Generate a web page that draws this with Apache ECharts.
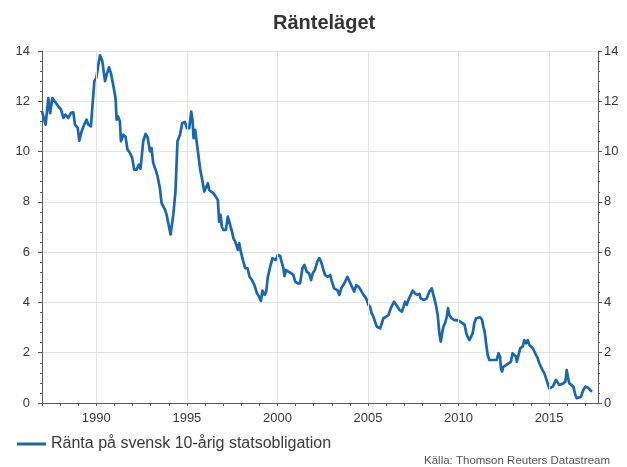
<!DOCTYPE html>
<html>
<head>
<meta charset="utf-8">
<script src="https://cdn.jsdelivr.net/npm/echarts@6/dist/echarts.min.js"></script>
<style>html,body{margin:0;padding:0;background:#fff}#c{width:627px;height:467px}</style>
</head>
<body>
<div id="c"></div>
<script>
const titleText = 'Ränteläget';
const seriesName = 'Ränta på svensk 10-årig statsobligation';
const sourceText = 'Källa: Thomson Reuters Datastream';
const gridYears = [1990, 1995, 2000, 2005, 2010, 2015];
const years = [
1987.0,1987.1,1987.2,1987.35,1987.45,1987.57,1987.7,1987.9,1988.05,1988.18,1988.3,1988.45,1988.6,1988.73,1988.82,1988.97,
1989.06,1989.19,1989.33,1989.46,1989.56,1989.7,1989.78,1989.89,1990.0,1990.1,1990.2,1990.33,1990.48,1990.57,1990.7,1990.8,1990.93,
1991.06,1991.12,1991.2,1991.3,1991.36,1991.49,1991.61,1991.72,1991.86,1991.98,1992.09,1992.22,1992.35,1992.44,1992.59,1992.72,1992.83,1992.96,
1993.05,1993.14,1993.27,1993.38,1993.51,1993.6,1993.69,1993.79,1993.88,1993.97,1994.1,1994.25,1994.37,1994.48,1994.62,1994.74,1994.89,
1995.0,1995.13,1995.24,1995.31,1995.37,1995.46,1995.55,1995.64,1995.74,1995.83,1995.96,1996.05,1996.16,1996.23,1996.34,1996.47,1996.6,1996.71,1996.78,1996.86,1996.93,
1997.02,1997.15,1997.26,1997.39,1997.49,1997.57,1997.67,1997.76,1997.82,1997.89,1997.98,1998.09,1998.22,1998.35,1998.46,1998.59,1998.73,1998.87,1998.99,
1999.09,1999.17,1999.29,1999.38,1999.47,1999.6,1999.73,1999.84,1999.91,2000.02,2000.15,2000.25,2000.33,2000.39,2000.48,2000.61,2000.76,2000.88,2000.98,
2001.13,2001.25,2001.38,2001.49,2001.62,2001.75,2001.86,2001.95,2002.07,2002.2,2002.31,2002.41,2002.54,2002.63,2002.78,2002.91,
2003.0,2003.13,2003.24,2003.31,2003.42,2003.52,2003.64,2003.74,2003.86,2003.98,2004.11,2004.24,2004.35,2004.47,2004.6,2004.75,2004.9,
2005.02,2005.12,2005.2,2005.3,2005.39,2005.49,2005.58,2005.67,2005.76,2005.85,2006.0,2006.13,2006.26,2006.35,2006.44,2006.54,2006.65,2006.74,2006.87,2006.96,
2007.05,2007.14,2007.23,2007.36,2007.47,2007.6,2007.72,2007.84,2007.91,2008.02,2008.11,2008.24,2008.39,2008.52,2008.61,2008.75,2008.85,2008.94,
2009.02,2009.09,2009.16,2009.25,2009.35,2009.42,2009.49,2009.62,2009.75,2009.9,2009.99,2010.11,2010.22,2010.33,2010.43,2010.5,2010.6,2010.69,2010.78,2010.87,2010.97,
2011.06,2011.19,2011.3,2011.37,2011.44,2011.52,2011.61,2011.7,2011.79,2011.88,2011.98,2012.1,2012.21,2012.29,2012.34,2012.4,2012.47,2012.62,2012.76,2012.89,2012.98,
2013.08,2013.17,2013.22,2013.31,2013.41,2013.54,2013.63,2013.73,2013.82,2013.91,2014.0,2014.09,2014.19,2014.28,2014.37,2014.46,2014.55,2014.64,2014.74,2014.83,2014.92,
2015.01,2015.1,2015.2,2015.29,2015.38,2015.47,2015.56,2015.66,2015.78,2015.9,2015.97,2016.05,2016.12,2016.23,2016.34,2016.45,2016.53,2016.64,2016.76,2016.89,
2017.0,2017.13,2017.26,2017.37
];
const rates = [
11.6,11.67,11.07,12.13,11.53,12.13,12.0,11.8,11.67,11.34,11.47,11.34,11.54,11.56,11.07,10.94,
10.43,10.81,11.07,11.27,11.07,11.0,11.0,12.8,12.93,13.4,13.83,13.6,12.8,13.06,13.35,13.13,12.66,
12.13,11.27,11.4,11.2,10.41,10.67,10.6,10.08,9.94,9.75,9.28,9.28,9.48,9.32,10.41,10.7,10.57,10.01,
10.14,9.55,9.28,9.02,8.55,7.96,7.89,7.69,7.49,7.43,6.7,7.49,8.42,10.41,10.67,11.14,11.18,
10.93,10.93,11.59,11.26,10.53,10.86,10.33,10.26,9.27,8.94,8.41,8.47,8.74,8.47,8.5,8.34,8.2,8.07,7.21,7.48,7.01,
6.88,6.88,7.41,7.08,6.81,6.55,6.42,6.48,6.09,6.35,6.02,5.69,5.36,5.36,5.02,4.89,4.69,4.36,4.23,
4.06,4.47,4.3,4.43,5.02,5.42,5.76,5.82,5.69,5.89,5.85,5.56,5.36,5.05,5.29,5.22,5.16,5.09,4.83,
4.76,4.76,5.36,5.49,5.22,5.16,4.89,5.16,5.29,5.62,5.76,5.62,5.29,5.09,5.02,5.09,
4.85,4.56,4.63,4.49,4.3,4.56,4.69,4.83,5.02,4.83,4.63,4.43,4.69,4.63,4.49,4.3,4.16,
3.9,3.81,3.57,3.43,3.23,3.03,3.06,2.97,3.17,3.37,3.43,3.5,3.77,3.9,4.03,3.97,3.81,3.7,3.63,3.7,
4.03,3.9,4.1,4.3,4.47,4.36,4.3,4.34,4.16,4.2,4.1,4.16,4.43,4.56,4.3,3.9,3.5,2.77,
2.44,2.77,3.03,3.17,3.43,3.77,3.5,3.37,3.3,3.3,3.37,3.23,3.2,3.12,2.77,2.64,2.5,2.57,2.77,3.17,3.37,
3.43,3.41,3.3,3.03,2.84,2.37,1.91,1.71,1.78,1.71,1.78,1.71,1.98,1.84,1.38,1.25,1.44,1.51,1.58,1.64,1.98,
1.91,1.84,1.64,1.91,2.18,2.24,2.5,2.37,2.5,2.31,2.31,2.18,2.04,1.98,1.78,1.58,1.44,1.31,1.18,0.98,0.78,
0.58,0.52,0.65,0.78,0.92,0.85,0.72,0.65,0.78,0.85,1.31,0.98,0.78,0.81,0.65,0.32,0.19,0.19,0.25,0.52,
0.65,0.62,0.52,0.45
];

const chart = echarts.init(document.getElementById('c'), null, {renderer: 'canvas'});
const txt = '#3a3a3a';
const axisCol = '#5a5a5a';
const yAxisBase = {
  type: 'value', min: 0, max: 14, interval: 2,
  axisLine: {show: true, lineStyle: {color: axisCol, width: 1}},
  axisTick: {show: true, length: 4, lineStyle: {color: axisCol}},
  minorTick: {show: true, splitNumber: 5, length: 2, lineStyle: {color: axisCol}},
  axisLabel: {color: txt, fontSize: 13, fontFamily: 'Liberation Sans, Arial', margin: 6},
  minorSplitLine: {show: false}
};
const option = {
  animation: false,
  backgroundColor: '#ffffff',
  title: [
    {text: titleText, left: 268, top: 8,
     textStyle: {fontSize: 20, fontWeight: 'bold', color: '#333', fontFamily: 'Liberation Sans, Arial'}},
    {text: sourceText, right: 12, top: 450,
     textStyle: {fontSize: 11.5, fontWeight: 'normal', color: '#555', fontFamily: 'Liberation Sans, Arial'}}
  ],
  legend: {
    left: 12, top: 431, icon: 'rect', itemWidth: 29, itemHeight: 3, itemGap: 8,
    textStyle: {fontSize: 16, color: txt, fontFamily: 'Liberation Sans, Arial'},
    data: [seriesName]
  },
  grid: {left: 42, right: 29, top: 51, bottom: 64},
  xAxis: {
    type: 'value', min: 1987, max: 2017.7, interval: 1,
    axisLine: {show: true, lineStyle: {color: axisCol, width: 1}},
    axisTick: {show: true, length: 3, lineStyle: {color: axisCol}},
    axisLabel: {
      color: txt, fontSize: 13, fontFamily: 'Liberation Sans, Arial', margin: 9,
      formatter: v => (Math.round(v) % 5 === 0 ? String(Math.round(v)) : ''),
      showMaxLabel: false
    },
    splitLine: {show: false}
  },
  yAxis: [
    Object.assign({}, yAxisBase, {position: 'left',
      axisLabel: Object.assign({}, yAxisBase.axisLabel, {margin: 12}),
      splitLine: {show: true, lineStyle: {color: '#e4e4e4', width: 1}}}),
    Object.assign({}, yAxisBase, {position: 'right', splitLine: {show: false}})
  ],
  series: [{
    name: seriesName,
    type: 'line',
    yAxisIndex: 0,
    showSymbol: false,
    symbol: 'none',
    smooth: false,
    lineStyle: {color: '#1c67ab', width: 2.7, join: 'round'},
    itemStyle: {color: '#1c67ab'},
    data: years.map((y, i) => [y, rates[i]]),
    markLine: {
      silent: true, symbol: 'none', animation: false,
      label: {show: false},
      lineStyle: {color: '#e4e4e4', width: 1, type: 'solid'},
      data: gridYears.map(y => ({xAxis: y}))
    },
    z: 3
  }]
};
chart.setOption(option);
</script>
</body>
</html>
